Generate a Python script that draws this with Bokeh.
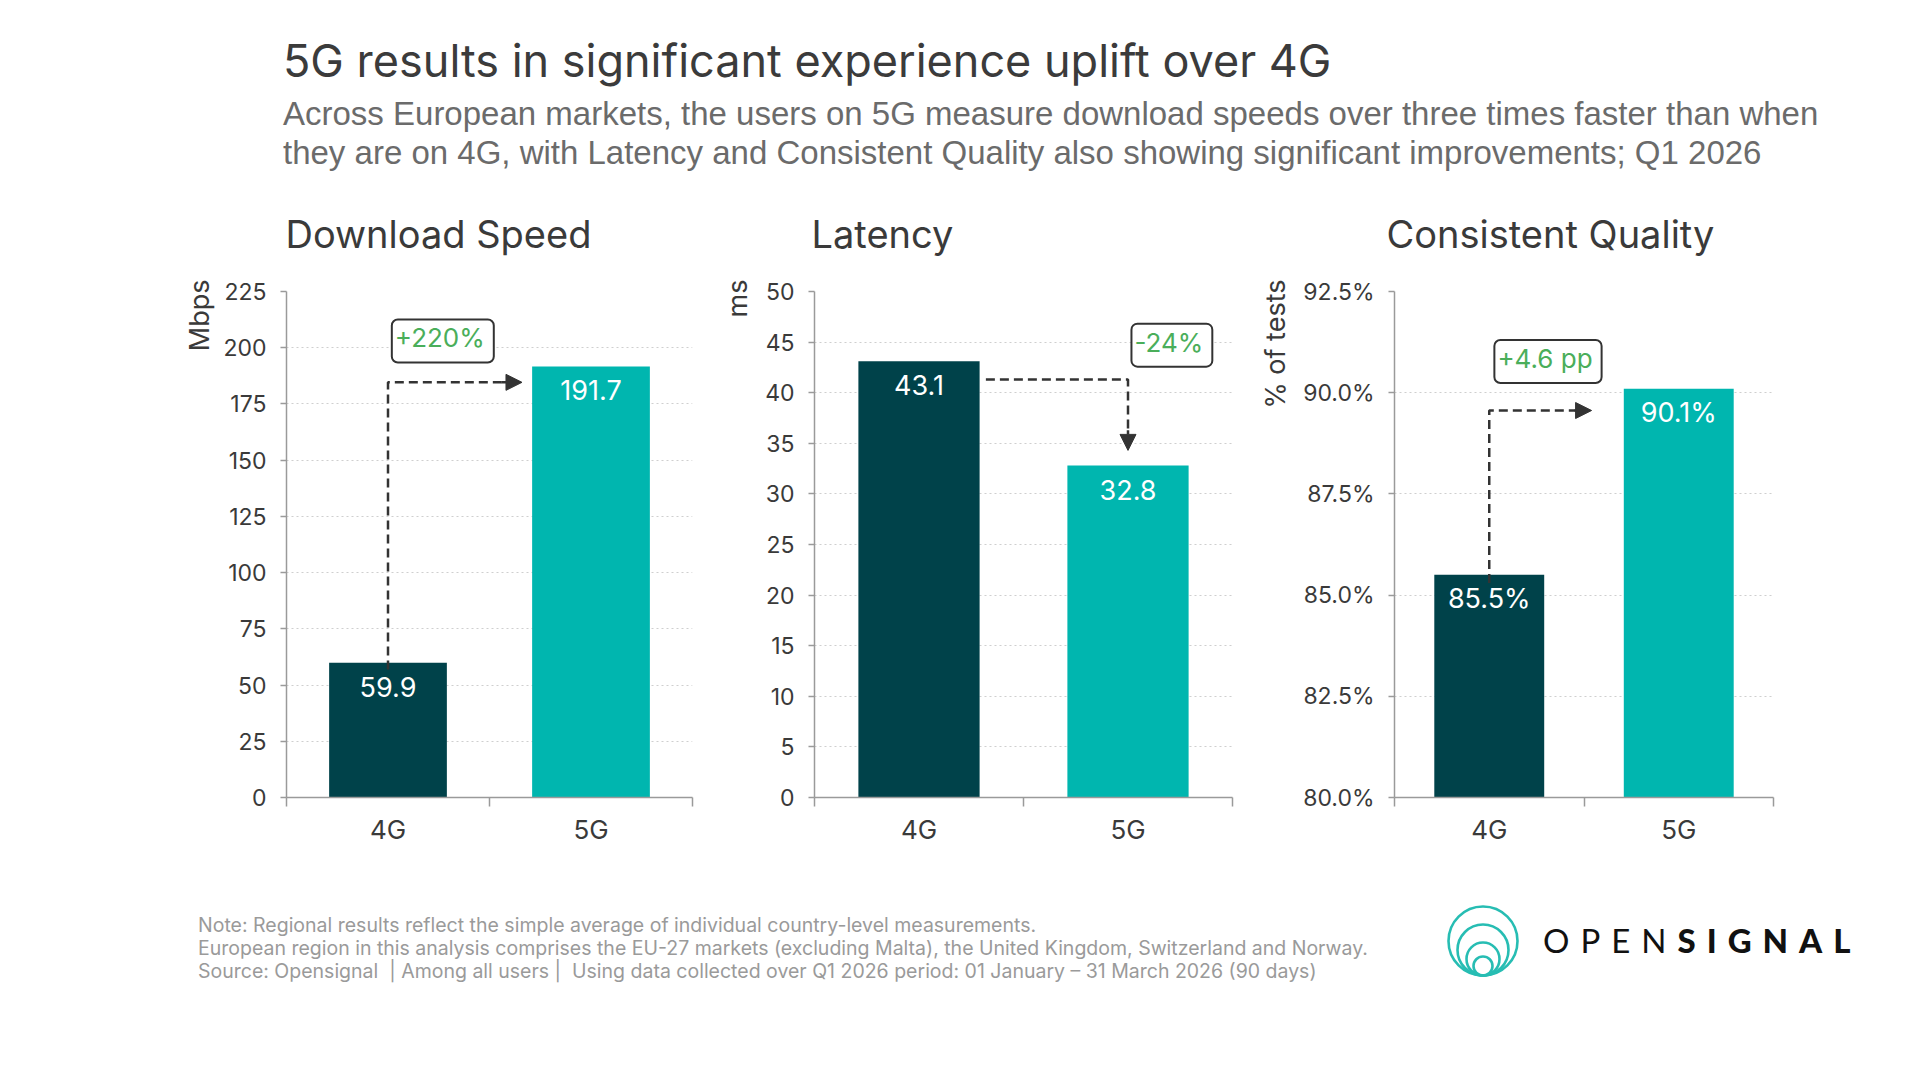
from bokeh.plotting import figure
from bokeh.models import (Range1d, FixedTicker, Label, Arrow, NormalHead, Div,
                          ColumnDataSource, Title)
from bokeh.layouts import column, row
from bokeh.embed import file_html
from bokeh.resources import INLINE
from bokeh.core.properties import value

# ---------------- data ----------------
TITLE = "5G results in significant experience uplift over 4G"
SUBTITLE_1 = ("Across European markets, the users on 5G measure download speeds over "
              "three times faster than when")
SUBTITLE_2 = ("they are on 4G, with Latency and Consistent Quality also showing "
              "significant improvements; Q1 2026")
NOTE_LINES = [
    "Note: Regional results reflect the simple average of individual country-level measurements.",
    "European region in this analysis comprises the EU-27 markets (excluding Malta), the United Kingdom, Switzerland and Norway.",
    "Source: Opensignal &nbsp;|&nbsp;Among all users&nbsp;|&nbsp; Using data collected over Q1 2026 period: 01 January \u2013 31 March 2026 (90 days)",
]

categories = ["4G", "5G"]
panel_titles = ["Download Speed", "Latency", "Consistent Quality"]
unit_labels = ["Mbps", "ms", "% of tests"]

download_speed = [59.9, 191.7]
latency = [43.1, 32.8]
consistent_quality = [85.5, 90.1]

download_labels = ["59.9", "191.7"]
latency_labels = ["43.1", "32.8"]
quality_labels = ["85.5%", "90.1%"]

change_labels = ["+220%", "-24%", "+4.6 pp"]

download_ticks = [0, 25, 50, 75, 100, 125, 150, 175, 200, 225]
latency_ticks = [0, 5, 10, 15, 20, 25, 30, 35, 40, 45, 50]
quality_ticks = [80.0, 82.5, 85.0, 87.5, 90.0, 92.5]
quality_tick_labels = ["80.0%", "82.5%", "85.0%", "87.5%", "90.0%", "92.5%"]

# ---------------- style ----------------
DARK = "#00424A"
TEAL = "#00B6AF"
AXIS = "#9a9a9a"
GRID = "#cfcfcf"
TXT = "#3a3a3a"
GREEN = "#4aae5a"
FONT = "Inter"
FRAME_H = 507
FIG_H = 680
BORDER_TOP = 117
HEADER_H = 163
FOOTER_H = 1064 - HEADER_H - FIG_H


def make_panel(title, unit, vals, labels, ticks, tick_labels, y0, y1,
               width, bl, br, conn, arrow, box_xy, box_text, title_offset, unit_standoff):
    p = figure(width=width, height=FIG_H, x_range=Range1d(0, 2), y_range=Range1d(y0, y1),
               toolbar_location=None, output_backend="svg",
               min_border_left=bl, min_border_right=br,
               min_border_top=BORDER_TOP, min_border_bottom=FIG_H - FRAME_H - BORDER_TOP)
    p.outline_line_color = None
    p.background_fill_color = "white"
    p.border_fill_color = None

    # panel title
    p.title.text = title
    p.title.align = "left"
    p.title.text_font = FONT
    p.title.text_font_size = "38px"
    p.title.text_font_style = "normal"
    p.title.text_color = TXT
    p.title.standoff = 70
    p.title.offset = title_offset

    # grid
    p.xgrid.grid_line_color = None
    p.ygrid.grid_line_color = GRID
    p.ygrid.grid_line_dash = "2 3"
    p.ygrid.grid_line_width = 1.2

    # y axis
    ya = p.yaxis[0]
    ya.ticker = FixedTicker(ticks=ticks)
    if tick_labels is not None:
        ya.major_label_overrides = {float(t): l for t, l in zip(ticks, tick_labels)}
    ya.axis_line_color = AXIS
    ya.axis_line_width = 1.5
    ya.major_tick_line_color = AXIS
    ya.major_tick_line_width = 1.5
    ya.major_tick_out = 6
    ya.major_tick_in = 0
    ya.minor_tick_line_color = None
    ya.major_label_standoff = 14
    ya.major_label_text_font = FONT
    ya.major_label_text_font_size = "23px"
    ya.major_label_text_color = TXT

    # unit label: vertical, aligned with the top of the axis
    ut = Title(text=unit, align="right", text_font=FONT, text_font_size="27px",
               text_font_style="normal", text_color=TXT, standoff=unit_standoff, offset=-12)
    p.add_layout(ut, "left")

    # x axis (category centres at 0.5 / 1.5, boundary ticks at 0 / 1 / 2)
    xa = p.xaxis[0]
    centres = [i + 0.5 for i in range(len(categories))]
    xa.ticker = FixedTicker(ticks=centres, minor_ticks=list(range(len(categories) + 1)))
    xa.major_label_overrides = {c: cat for c, cat in zip(centres, categories)}
    xa.axis_line_color = AXIS
    xa.axis_line_width = 1.5
    xa.major_tick_line_color = None
    xa.major_tick_out = 0
    xa.major_tick_in = 0
    xa.minor_tick_line_color = AXIS
    xa.minor_tick_line_width = 1.5
    xa.minor_tick_out = 9
    xa.minor_tick_in = 0
    xa.major_label_standoff = 7
    xa.major_label_text_font = FONT
    xa.major_label_text_font_size = "26px"
    xa.major_label_text_color = TXT

    src = ColumnDataSource(dict(x=centres, top=vals, lab=labels, col=[DARK, TEAL]))
    p.vbar(x="x", top="top", bottom=y0, width=0.58, fill_color="col", line_color=None, source=src)
    p.text(x="x", y="top", text="lab", source=src, text_color="white",
           text_align="center", text_baseline="middle", y_offset=24,
           text_font=value(FONT), text_font_size="27px")

    # connector
    p.line(x=[c[0] for c in conn], y=[c[1] for c in conn], line_color="#333333",
           line_width=2.5, line_dash="9 5")
    p.add_layout(Arrow(end=NormalHead(size=16, fill_color="#333333", line_color="#333333",
                                      line_width=1),
                       x_start=arrow[0], y_start=arrow[1], x_end=arrow[2], y_end=arrow[3],
                       line_color="#333333", line_width=2.5))

    # change box
    p.add_layout(Label(x=box_xy[0], y=box_xy[1], text=box_text, text_align="center",
                       text_baseline="middle", text_color=GREEN, text_font=FONT,
                       text_font_size="26px", background_fill_color="white",
                       border_line_color="#333333", border_line_width=2,
                       border_radius=6, padding=(3, 9, 3, 9)))
    return p


p1 = make_panel(panel_titles[0], unit_labels[0], download_speed, download_labels,
                download_ticks, None, 0, 225, 707, 286, 15,
                conn=[(0.5, download_speed[0] - 3), (0.5, 184.6), (1.08, 184.6)],
                arrow=(1.06, 184.6, 1.16, 184.6),
                box_xy=(0.77, 203), box_text=change_labels[0],
                title_offset=-1, unit_standoff=10)
p2 = make_panel(panel_titles[1], unit_labels[1], latency, latency_labels,
                latency_ticks, None, 0, 50, 539, 107, 14,
                conn=[(0.82, 41.3), (1.5, 41.3), (1.5, 36.0)],
                arrow=(1.5, 36.3, 1.5, 34.3),
                box_xy=(1.71, 44.7), box_text=change_labels[1],
                title_offset=-3, unit_standoff=18)
p3 = make_panel(panel_titles[2], unit_labels[2], consistent_quality, quality_labels,
                quality_ticks, quality_tick_labels, 80, 92.5, 658, 148, 131,
                conn=[(0.5, consistent_quality[0] - 0.2), (0.5, 89.56), (0.97, 89.56)],
                arrow=(0.95, 89.56, 1.04, 89.56),
                box_xy=(0.81, 90.77), box_text=change_labels[2],
                title_offset=-8, unit_standoff=18)

header_html = (
    f'<div style="margin-left:278px;padding-top:26px;font-family:Inter;font-size:45px;'
    f'line-height:60px;color:#3b3b3b;white-space:nowrap;">{TITLE}</div>'
    f'<div style="margin-left:278px;margin-top:3px;font-family:\'Liberation Sans\';font-size:33px;'
    f'line-height:39px;color:#6b6b6b;white-space:nowrap;">{SUBTITLE_1}<br>{SUBTITLE_2}</div>'
)
header = Div(text=header_html, width=1904, height=HEADER_H, styles={"overflow": "visible"})

foot_html = (
    '<div style="margin-left:193px;padding-top:56px;font-family:Inter;font-size:19.5px;'
    'line-height:23px;color:#9a9a9a;white-space:nowrap;">'
    + "<br>".join(NOTE_LINES) + '</div>'
)
foot = Div(text=foot_html, width=1420, height=FOOTER_H)

circles = "".join(
    f'<circle cx="36" cy="{70.5 - r}" r="{r}" fill="none" stroke="#27bdb3" stroke-width="2.6"/>'
    for r in (34.5, 25.5, 16.5, 9.5)
)
logo_html = (
    '<div style="display:flex;align-items:center;padding-top:47px;margin-left:12px;">'
    f'<svg width="72" height="72" viewBox="0 0 72 72">{circles}</svg>'
    '<span style="margin-left:24px;font-family:Lato;font-size:33px;letter-spacing:11px;'
    'color:#111;white-space:nowrap;"><span style="font-weight:400;">OPEN</span>'
    '<span style="font-weight:900;">SIGNAL</span></span></div>'
)
logo = Div(text=logo_html, width=484, height=FOOTER_H)

layout = column(header, row(p1, p2, p3), row(foot, logo))

with open("out.html", "w") as f:
    f.write(file_html(layout, INLINE))
